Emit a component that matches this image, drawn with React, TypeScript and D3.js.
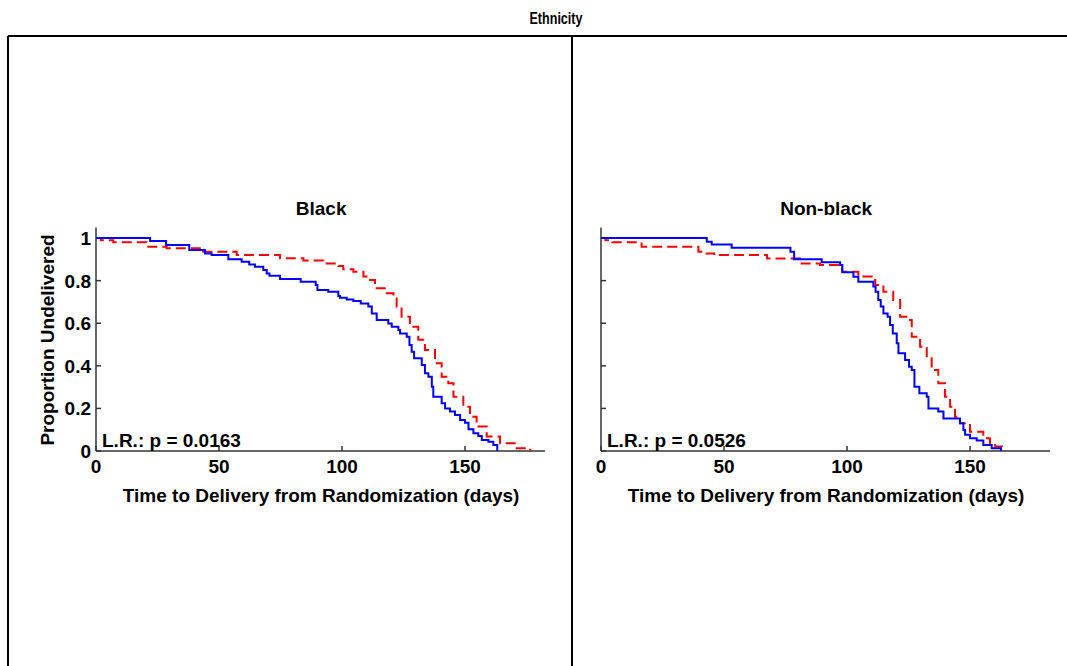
import React from "react";
import * as d3 from "d3";

// ---------- data ----------
const xTicks = [0, 50, 100, 150];
const yTicks = [0, 0.2, 0.4, 0.6, 0.8, 1];
const yTickLabels = ["0", "0.2", "0.4", "0.6", "0.8", "1"];
const panelTitles = ["Black", "Non-black"];
const pValueLabels = ["L.R.: p = 0.0163", "L.R.: p = 0.0526"];

// Black – solid blue
const blackBlueTime = [0, 22, 28.5, 37.9, 44.3, 47, 53.8, 59.2, 62.3, 64.6, 68.0, 69.4, 70.5, 74.8, 83.2, 89.3, 90.0, 94.4, 98.5, 99.2, 101.9, 104.6, 107.6, 110.7, 112.1, 114.1, 118.8, 120.2, 122.9, 123.6, 126.3, 127.4, 128.3, 129.3, 132.4, 133.7, 135.1, 136.5, 137.1, 140.5, 141.9, 143.9, 145.9, 148.0, 150.0, 151.4, 153.4, 155.4, 156.8, 159.5, 161.5, 163.1];
const blackBlueSurv = [1, 0.986, 0.967, 0.944, 0.928, 0.92, 0.9, 0.889, 0.876, 0.865, 0.85, 0.834, 0.823, 0.808, 0.795, 0.779, 0.756, 0.748, 0.728, 0.72, 0.712, 0.704, 0.693, 0.678, 0.646, 0.615, 0.599, 0.584, 0.568, 0.552, 0.537, 0.498, 0.466, 0.435, 0.404, 0.365, 0.349, 0.302, 0.255, 0.224, 0.2, 0.185, 0.169, 0.146, 0.133, 0.102, 0.083, 0.07, 0.052, 0.044, 0.028, 0];

// Black – dashed red
const blackRedTime = [0, 2, 7, 20.6, 28.7, 43.6, 57.2, 74.8, 84.3, 92.4, 98.5, 100.5, 104.6, 108.7, 110.7, 113.4, 118.2, 120.9, 122.2, 124.2, 127.6, 131.0, 133.7, 137.8, 140.5, 143.2, 145.3, 149.3, 152.0, 154.7, 158.8, 164.2, 171.0, 176.5];
const blackRedSurv = [1, 0.99, 0.98, 0.959, 0.952, 0.936, 0.92, 0.905, 0.895, 0.881, 0.869, 0.853, 0.842, 0.819, 0.803, 0.764, 0.741, 0.725, 0.678, 0.631, 0.584, 0.522, 0.474, 0.412, 0.349, 0.318, 0.255, 0.208, 0.161, 0.115, 0.068, 0.036, 0.013, 0];

// Non-black – solid blue
const nonBlackBlueTime = [0, 43.0, 45.0, 53.1, 77.0, 78.5, 89.7, 97.2, 98.1, 102.6, 104.6, 110.7, 111.6, 112.7, 113.7, 114.8, 116.5, 117.5, 118.6, 120.2, 120.9, 123.6, 125.2, 126.3, 127.4, 129.4, 132.4, 133.1, 137.1, 139.2, 145.9, 147.3, 148.0, 150.0, 152.7, 155.4, 158.8, 162.6];
const nonBlackBlueSurv = [1, 0.983, 0.97, 0.954, 0.936, 0.9, 0.886, 0.873, 0.839, 0.818, 0.795, 0.772, 0.748, 0.709, 0.678, 0.646, 0.631, 0.592, 0.552, 0.506, 0.459, 0.427, 0.396, 0.38, 0.302, 0.271, 0.255, 0.2, 0.185, 0.153, 0.13, 0.099, 0.076, 0.06, 0.049, 0.028, 0.013, 0];

// Non-black – dashed red
const nonBlackRedTime = [0, 1.8, 4.6, 16.5, 39.6, 42.3, 46, 67.5, 81, 89, 98, 104.6, 110, 111.5, 114.8, 118.8, 121.6, 125.6, 126.3, 129.7, 132.4, 134.4, 137.1, 139.8, 141.9, 143.9, 145.9, 150, 155.4, 158.1, 160.2, 163.1];
const nonBlackRedSurv = [1, 0.99, 0.98, 0.959, 0.936, 0.928, 0.92, 0.904, 0.881, 0.873, 0.842, 0.819, 0.803, 0.779, 0.748, 0.709, 0.631, 0.615, 0.537, 0.49, 0.435, 0.38, 0.318, 0.255, 0.208, 0.161, 0.13, 0.09, 0.06, 0.036, 0.021, 0];

const FONT = "'Liberation Sans', Arial, Helvetica, sans-serif";
const FS = 19;

type Series = { t: number[]; s: number[] };

function zip(sr: Series): [number, number][] {
  return sr.t.map((t, i) => [t, sr.s[i]] as [number, number]);
}

function Panel({ x0, title, pLabel, showYLabels, blue, red }: { x0: number; title: string; pLabel: string; showYLabels: boolean; blue: Series; red: Series }) {
  const x = d3.scaleLinear().domain([0, 182.5]).range([x0, x0 + 449]);
  const y = d3.scaleLinear().domain([0, 1.05]).range([451, 227.4]);
  const line = d3
    .line<[number, number]>()
    .x((d) => x(d[0]))
    .y((d) => y(d[1]))
    .curve(d3.curveStepAfter);
  const axisColor = "#333";
  const [ymin, ymax] = y.range();
  return (
    <g>
      <text x={x(91.5)} y={215} textAnchor="middle" fontFamily={FONT} fontWeight="bold" fontSize={FS}>
        {title}
      </text>
      {/* axes */}
      <line x1={x0} x2={x0} y1={ymax} y2={ymin} stroke={axisColor} strokeWidth={1.5} />
      <line x1={x0} x2={x0 + 449} y1={ymin} y2={ymin} stroke={axisColor} strokeWidth={1.5} />
      {yTicks.map((v, i) => (
        <g key={"yt" + i}>
          <line x1={x0} x2={x0 + 5} y1={y(v)} y2={y(v)} stroke={axisColor} strokeWidth={1.5} />
          {showYLabels && (
            <text x={x0 - 5} y={y(v) + 7} textAnchor="end" fontFamily={FONT} fontWeight="bold" fontSize={FS}>
              {yTickLabels[i]}
            </text>
          )}
        </g>
      ))}
      {xTicks.map((v) => (
        <g key={"xt" + v}>
          <line x1={x(v)} x2={x(v)} y1={ymin} y2={ymin - 5} stroke={axisColor} strokeWidth={1.5} />
          <text x={x(v)} y={473} textAnchor="middle" fontFamily={FONT} fontWeight="bold" fontSize={FS}>
            {v}
          </text>
        </g>
      ))}
      <text x={x(91.5)} y={502} textAnchor="middle" fontFamily={FONT} fontWeight="bold" fontSize={FS}>
        Time to Delivery from Randomization (days)
      </text>
      {/* curves */}
      <path d={line(zip(red)) || ""} fill="none" stroke="#ff0000" strokeWidth={2} strokeDasharray="10,5" />
      <path d={line(zip(blue)) || ""} fill="none" stroke="#0000ff" strokeWidth={2} />
      <text x={x0 + 6} y={447} fontFamily={FONT} fontWeight="bold" fontSize={FS}>
        {pLabel}
      </text>
    </g>
  );
}

export default function App() {
  return (
    <div style={{ position: "absolute", left: 0, top: 0 }}>
      <svg width={1067} height={666} style={{ display: "block", background: "#fff" }}>
        <rect x={0} y={0} width={1067} height={666} fill="#fff" />
        <text x={556} y={24} textAnchor="middle" fontFamily={FONT} fontWeight="bold" fontSize={17} textLength={53} lengthAdjust="spacingAndGlyphs">
          Ethnicity
        </text>
        <line x1={8} x2={1067} y1={36} y2={36} stroke="#000" strokeWidth={2} />
        <line x1={8} x2={8} y1={36} y2={666} stroke="#000" strokeWidth={2} />
        <line x1={572} x2={572} y1={36} y2={666} stroke="#000" strokeWidth={2} />
        <Panel x0={96} title={panelTitles[0]} pLabel={pValueLabels[0]} showYLabels={true} blue={{ t: blackBlueTime, s: blackBlueSurv }} red={{ t: blackRedTime, s: blackRedSurv }} />
        <Panel x0={601} title={panelTitles[1]} pLabel={pValueLabels[1]} showYLabels={false} blue={{ t: nonBlackBlueTime, s: nonBlackBlueSurv }} red={{ t: nonBlackRedTime, s: nonBlackRedSurv }} />
        <text transform="translate(54,340) rotate(-90)" textAnchor="middle" fontFamily={FONT} fontWeight="bold" fontSize={FS}>
          Proportion Undelivered
        </text>
      </svg>
    </div>
  );
}
